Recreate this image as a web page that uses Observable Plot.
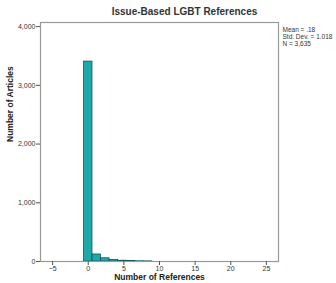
<!DOCTYPE html>
<html><head><meta charset="utf-8">
<script src="https://cdn.jsdelivr.net/npm/d3@7"></script>
<script src="https://cdn.jsdelivr.net/npm/@observablehq/plot@0.6"></script>
<style>body{margin:0;background:#fff}</style>
</head><body><div id="chart"></div>
<script>
const title = "Issue-Based LGBT References";
const xLabel = "Number of References";
const yLabel = "Number of Articles";
const statsLines = ["Mean = .18", "Std. Dev. = 1.018", "N = 3,635"];
const binEdges = [-0.6, 0.6, 1.8, 3.0, 4.2, 5.4, 6.6, 7.8, 9.0];
const binCounts = [3405, 120, 55, 28, 14, 6, 4, 3];
const xTicks = [-5, 0, 5, 10, 15, 20, 25];
const yTicks = [0, 1000, 2000, 3000, 4000];

const bins = binCounts.map((c, i) => ({x1: binEdges[i], x2: binEdges[i + 1], count: c})).filter(d => d.count > 0);

const font = "Liberation Sans, Arial, sans-serif";
const plot = Plot.plot({
  width: 336, height: 283,
  marginLeft: 40, marginRight: 58, marginTop: 22, marginBottom: 22,
  style: {fontFamily: font, background: "#fff", color: "#333"},
  x: {domain: [-6.7, 26.7]},
  y: {domain: [0, 4070]},
  marks: [
    Plot.rectY(bins, {x1: "x1", x2: "x2", y: "count", fill: "#1fa8a8", stroke: "#0c4a4a", strokeWidth: 0.7}),
    Plot.frame({stroke: "#999", strokeWidth: 1.2}),
    Plot.axisX({ticks: xTicks, tickSize: 4, tickPadding: 1, fontSize: 7, label: null, stroke: "#555"}),
    Plot.axisY({ticks: yTicks, tickSize: 4, tickPadding: 1, fontSize: 7, label: null, tickFormat: d3.format(","), stroke: "#555"}),
    Plot.text([title], {frameAnchor: "top", dy: -15, dx: 25, fontSize: 10, fontWeight: "bold", fill: "#333"}),
    Plot.text([yLabel], {frameAnchor: "left", rotate: -90, dx: -30, fontSize: 8.5, fontWeight: "bold", fill: "#222"}),
    Plot.text([xLabel], {frameAnchor: "bottom", dy: 18.5, fontSize: 8.5, fontWeight: "bold", fill: "#222"}),
    Plot.text([statsLines.join("\n")], {frameAnchor: "top-right", dx: 4, dy: 4, textAnchor: "start", lineAnchor: "top", fontSize: 6.5, lineHeight: 1.1, fill: "#333"})
  ]
});
document.getElementById("chart").appendChild(plot);
</script>
</body></html>
